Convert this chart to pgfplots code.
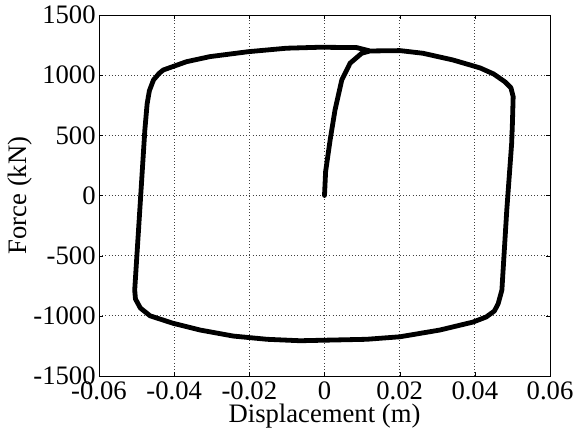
\documentclass[border=0pt]{standalone}
\usepackage{pgfplots}
\pgfplotsset{compat=1.18}
\usepackage{fontspec}
\setmainfont{Liberation Serif}
\begin{document}
\begin{tikzpicture}
\begin{axis}[
  at={(0,0)}, anchor=south west,
  scale only axis,
  width=338.25pt, height=270.75pt,
  xmin=-0.06, xmax=0.06, ymin=-1500, ymax=1500,
  scaled x ticks=false, scaled y ticks=false,
  xtick={-0.06,-0.04,-0.02,0,0.02,0.04,0.06},
  ytick={-1500,-1000,-500,0,500,1000,1500},
  /pgf/number format/assume math mode=true,
  /pgf/number format/1000 sep={},
  xticklabel style={/pgf/number format/fixed, /pgf/number format/precision=2, yshift=-1pt},
  grid=major,
  major grid style={black!75, dotted, line width=0.6pt},
  tick align=inside,
  major tick length=3pt,
  axis line style={black, line width=0.6pt},
  tick style={black},
  font=\fontsize{20}{22}\selectfont,
  ticklabel style={font=\fontsize{20}{22}\selectfont},
  yticklabel style={xshift=1pt},
  xlabel={Displacement (m)},
  ylabel={Force (kN)},
  xlabel style={inner sep=0pt, yshift=0.5pt},
  ylabel style={yshift=-6pt},
]
\addplot[black, line width=3.6pt, line join=round, line cap=round] coordinates {
(0,0) (0.0003,200) (0.0015,461) (0.0028,711) (0.0046,960) (0.0068,1099)
(0.0099,1182) (0.0121,1201) (0.0201,1204) (0.0262,1182) (0.0342,1126)
(0.0387,1085) (0.0414,1060) (0.0450,1010) (0.0480,945) (0.0496,895)
(0.0502,821) (0.0500,600) (0.0498,434) (0.0485,-121) (0.0472,-786)
(0.0462,-900) (0.0452,-960) (0.0430,-1010) (0.0395,-1052) (0.0307,-1118)
(0.0201,-1174) (0.0112,-1195) (-0.0065,-1207) (-0.0153,-1195)
(-0.0243,-1168) (-0.0331,-1118) (-0.0403,-1062) (-0.0464,-1000)
(-0.0490,-935) (-0.0503,-860) (-0.0505,-786) (-0.0489,0) (-0.0478,544)
(-0.0472,760) (-0.0466,870) (-0.0455,960) (-0.0440,1015) (-0.0429,1043)
(-0.0367,1112) (-0.0305,1154) (-0.0203,1195) (-0.0101,1224)
(-0.0012,1232) (0.0086,1229) (0.0121,1201)
};
\end{axis}
\pgfresetboundingbox
\path (-74.25pt,-44.25pt) rectangle (357.75pt,282pt);
\end{tikzpicture}
\end{document}
